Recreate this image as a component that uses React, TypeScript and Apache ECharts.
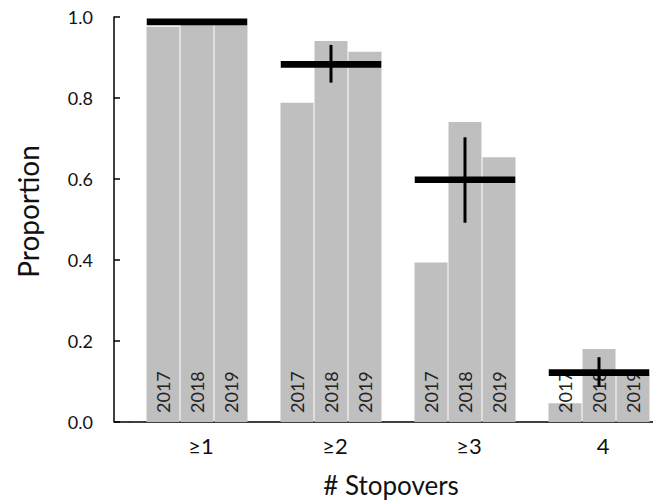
import React, { useEffect, useRef } from "react";
import * as echarts from "echarts";

const categories = ["≥1", "≥2", "≥3", "4"];
const years = ["2017", "2018", "2019"];
const values2017 = [0.976, 0.788, 0.394, 0.046];
const values2018 = [0.98, 0.941, 0.741, 0.18];
const values2019 = [0.98, 0.914, 0.654, 0.118];
const means = [0.988, 0.883, 0.598, 0.122];
const errLow = [0.988, 0.838, 0.492, 0.087];
const errHigh = [0.988, 0.931, 0.703, 0.16];
const yTicks = [0, 0.2, 0.4, 0.6, 0.8, 1.0];

const FONT = "Lato, 'Noto Sans', sans-serif";

export default function App() {
  const ref = useRef<HTMLDivElement>(null);
  useEffect(() => {
    if (!ref.current) return;
    const chart = echarts.init(ref.current, undefined, { renderer: "svg" });
    const seriesValues = [values2017, values2018, values2019];
    const barSeries = years.map((y, i) => ({
      type: "bar",
      name: y,
      data: seriesValues[i],
      barWidth: 33,
      barGap: "3%",
      itemStyle: { color: "#bfbfbf" },
      z: 2,
      label: {
        show: true,
        position: "insideBottom",
        rotate: 90,
        align: "left",
        verticalAlign: "middle",
        distance: 9,
        formatter: y,
        fontSize: 18,
        color: "#222",
        fontFamily: FONT,
      },
    }));
    const gridLeft = 130;
    const yOffset = 16;
    const option: any = {
      animation: false,
      backgroundColor: "#fff",
      textStyle: { fontFamily: FONT },
      grid: {
        left: gridLeft,
        top: 17,
        width: 536,
        height: 405,
        containLabel: false,
        outerBoundsMode: "none",
      },
      graphic: [
        {
          type: "line",
          shape: { x1: gridLeft - yOffset, y1: 422, x2: gridLeft, y2: 422 },
          style: { stroke: "#000", lineWidth: 1.5 },
          z: 10,
        },
      ],
      xAxis: {
        type: "category",
        data: categories,
        name: "# Stopovers",
        nameLocation: "middle",
        nameGap: 50,
        nameTextStyle: { fontSize: 26, color: "#111", fontFamily: FONT, padding: [0, 0, 0, -14] },
        axisTick: { show: false },
        axisLine: { lineStyle: { color: "#000", width: 1.5 } },
        axisLabel: { fontSize: 22, color: "#111", margin: 12, fontFamily: FONT, padding: [0, 0, 0, 8] },
        splitLine: { show: false },
      },
      yAxis: {
        type: "value",
        min: yTicks[0],
        max: yTicks[yTicks.length - 1],
        interval: 0.2,
        offset: yOffset,
        name: "Proportion",
        nameLocation: "middle",
        nameGap: 72,
        nameTextStyle: { fontSize: 28, color: "#111", fontFamily: FONT, padding: [0, 0, 0, 16] },
        axisLine: { show: true, lineStyle: { color: "#000", width: 1.5 } },
        axisTick: { show: true, inside: true, length: 6, lineStyle: { color: "#000", width: 1.5 } },
        axisLabel: {
          fontSize: 18,
          color: "#111",
          margin: 21,
          fontFamily: FONT,
          formatter: (v: number) => v.toFixed(1),
        },
        splitLine: { show: false },
      },
      series: [
        ...barSeries,
        {
          type: "custom",
          z: 5,
          data: means.map((m, i) => [i, m, errLow[i], errHigh[i]]),
          encode: { x: 0, y: 1 },
          renderItem: (params: any, api: any) => {
            const c = api.value(0);
            const m = api.value(1);
            const lo = api.value(2);
            const hi = api.value(3);
            const p = api.coord([c, m]);
            const band = api.size([1, 0])[0];
            const half = band * 0.375;
            const top = api.coord([c, hi]);
            const bot = api.coord([c, lo]);
            const children: any[] = [
              {
                type: "rect",
                shape: { x: p[0] - half, y: p[1] - 3.3, width: half * 2, height: 6.6 },
                style: { fill: "#000" },
              },
            ];
            if (hi > lo) {
              children.push({
                type: "line",
                shape: { x1: p[0], y1: top[1], x2: p[0], y2: bot[1] },
                style: { stroke: "#000", lineWidth: 3 },
              });
            }
            return { type: "group", children };
          },
        },
      ],
    };
    chart.setOption(option);
    return () => chart.dispose();
  }, []);
  return (
    <div
      ref={ref}
      style={{ position: "absolute", left: 0, top: 0, width: 653, height: 503 }}
    />
  );
}
